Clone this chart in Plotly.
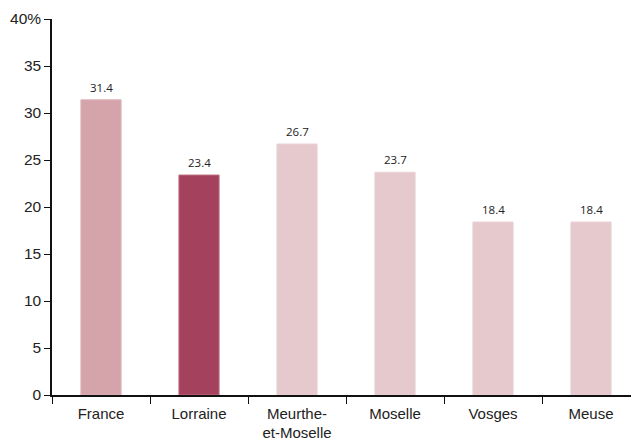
import plotly.graph_objects as go

# Share of population, by territory (%)
categories = ["France", "Lorraine", "Meurthe-<br>et-Moselle", "Moselle", "Vosges", "Meuse"]
values = [31.4, 23.4, 26.7, 23.7, 18.4, 18.4]
bar_colors = ["#d4a4aa", "#a4425e", "#e5c9cd", "#e5c9cd", "#e5c9cd", "#e5c9cd"]
edge_colors = ["#dcb3b8", "#c07083", "#ead3d6", "#ead3d6", "#ead3d6", "#ead3d6"]
y_ticks = [0, 5, 10, 15, 20, 25, 30, 35, 40]
y_tick_text = ["0", "5", "10", "15", "20", "25", "30", "35", "40%"]

fig = go.Figure(
    go.Bar(
        x=categories,
        y=values,
        width=0.41,
        marker=dict(color=bar_colors, line=dict(color=edge_colors, width=1)),
        cliponaxis=False,
    )
)

# value labels above each bar
for cat, val in zip(categories, values):
    fig.add_annotation(
        x=cat,
        y=val,
        text=f"{val:.1f}",
        showarrow=False,
        yanchor="bottom",
        yshift=3,
        font=dict(family="Open Sans, Noto Sans, sans-serif", size=11.5, color="#222"),
    )

fig.update_layout(
    width=631,
    height=441,
    margin=dict(l=52, r=0, t=19, b=46),
    plot_bgcolor="white",
    paper_bgcolor="white",
    showlegend=False,
    font=dict(family="Liberation Sans, Arial, sans-serif", size=15, color="#222"),
)

fig.update_xaxes(
    range=[-0.5, 5.408],
    showline=True,
    linecolor="#111",
    linewidth=1.5,
    ticks="outside",
    tickson="boundaries",
    ticklen=7,
    tickcolor="#111",
    tickwidth=1.2,
    showgrid=False,
    tickfont=dict(size=15, color="#222"),
    ticklabelstandoff=4,
    automargin=False,
    fixedrange=True,
)

fig.update_yaxes(
    range=[0, 40],
    tickvals=y_ticks,
    ticktext=y_tick_text,
    showline=True,
    linecolor="#111",
    linewidth=1.5,
    ticks="outside",
    ticklen=6,
    tickcolor="#111",
    tickwidth=1.2,
    showgrid=False,
    zeroline=False,
    tickfont=dict(size=15.5, color="#222"),
    automargin=False,
    fixedrange=True,
)

fig.write_html("out.html")
